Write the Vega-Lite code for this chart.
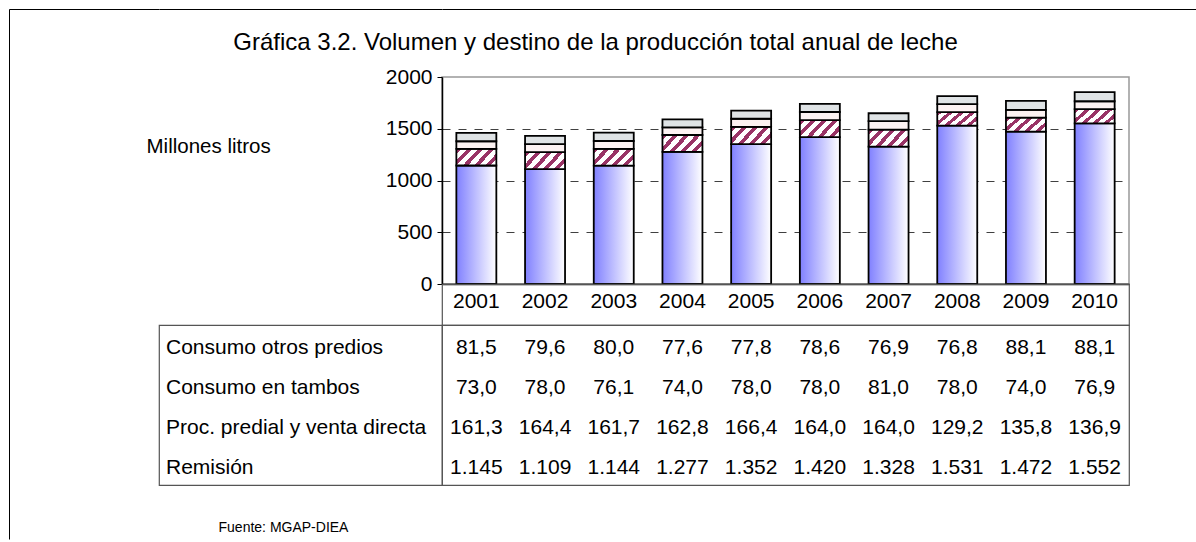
{
  "$schema": "https://vega.github.io/schema/vega-lite/v6.json",
  "padding": {"left": 8, "top": 8, "right": 0, "bottom": 0},
  "background": "white",
  "config": {
    "font": "Liberation Sans",
    "view": {"stroke": null},
    "text": {"font": "Liberation Sans", "color": "black"},
    "locale": {"number": {"decimal": ",", "thousands": ".", "grouping": [3], "currency": ["", ""]}}
  },
  "datasets": {
    "leche": [
      {"year": "2001", "serie": "Remisión", "orden": 1, "value": 1145},
      {"year": "2001", "serie": "Proc. predial y venta directa", "orden": 2, "value": 161.3},
      {"year": "2001", "serie": "Consumo en tambos", "orden": 3, "value": 73.0},
      {"year": "2001", "serie": "Consumo otros predios", "orden": 4, "value": 81.5},
      {"year": "2002", "serie": "Remisión", "orden": 1, "value": 1109},
      {"year": "2002", "serie": "Proc. predial y venta directa", "orden": 2, "value": 164.4},
      {"year": "2002", "serie": "Consumo en tambos", "orden": 3, "value": 78.0},
      {"year": "2002", "serie": "Consumo otros predios", "orden": 4, "value": 79.6},
      {"year": "2003", "serie": "Remisión", "orden": 1, "value": 1144},
      {"year": "2003", "serie": "Proc. predial y venta directa", "orden": 2, "value": 161.7},
      {"year": "2003", "serie": "Consumo en tambos", "orden": 3, "value": 76.1},
      {"year": "2003", "serie": "Consumo otros predios", "orden": 4, "value": 80.0},
      {"year": "2004", "serie": "Remisión", "orden": 1, "value": 1277},
      {"year": "2004", "serie": "Proc. predial y venta directa", "orden": 2, "value": 162.8},
      {"year": "2004", "serie": "Consumo en tambos", "orden": 3, "value": 74.0},
      {"year": "2004", "serie": "Consumo otros predios", "orden": 4, "value": 77.6},
      {"year": "2005", "serie": "Remisión", "orden": 1, "value": 1352},
      {"year": "2005", "serie": "Proc. predial y venta directa", "orden": 2, "value": 166.4},
      {"year": "2005", "serie": "Consumo en tambos", "orden": 3, "value": 78.0},
      {"year": "2005", "serie": "Consumo otros predios", "orden": 4, "value": 77.8},
      {"year": "2006", "serie": "Remisión", "orden": 1, "value": 1420},
      {"year": "2006", "serie": "Proc. predial y venta directa", "orden": 2, "value": 164.0},
      {"year": "2006", "serie": "Consumo en tambos", "orden": 3, "value": 78.0},
      {"year": "2006", "serie": "Consumo otros predios", "orden": 4, "value": 78.6},
      {"year": "2007", "serie": "Remisión", "orden": 1, "value": 1328},
      {"year": "2007", "serie": "Proc. predial y venta directa", "orden": 2, "value": 164.0},
      {"year": "2007", "serie": "Consumo en tambos", "orden": 3, "value": 81.0},
      {"year": "2007", "serie": "Consumo otros predios", "orden": 4, "value": 76.9},
      {"year": "2008", "serie": "Remisión", "orden": 1, "value": 1531},
      {"year": "2008", "serie": "Proc. predial y venta directa", "orden": 2, "value": 129.2},
      {"year": "2008", "serie": "Consumo en tambos", "orden": 3, "value": 78.0},
      {"year": "2008", "serie": "Consumo otros predios", "orden": 4, "value": 76.8},
      {"year": "2009", "serie": "Remisión", "orden": 1, "value": 1472},
      {"year": "2009", "serie": "Proc. predial y venta directa", "orden": 2, "value": 135.8},
      {"year": "2009", "serie": "Consumo en tambos", "orden": 3, "value": 74.0},
      {"year": "2009", "serie": "Consumo otros predios", "orden": 4, "value": 88.1},
      {"year": "2010", "serie": "Remisión", "orden": 1, "value": 1552},
      {"year": "2010", "serie": "Proc. predial y venta directa", "orden": 2, "value": 136.9},
      {"year": "2010", "serie": "Consumo en tambos", "orden": 3, "value": 76.9},
      {"year": "2010", "serie": "Consumo otros predios", "orden": 4, "value": 88.1}
    ]
  },
  "bounds": "flush",
  "spacing": 0,
  "hconcat": [
    {
      "width": 150,
      "height": 530,
      "view": {"stroke": "black", "strokeWidth": 1, "strokeDash": [150, 680, 530]},
      "data": {"values": [{}]},
      "mark": {"type": "text"},
      "encoding": {"text": {"value": ""}}
    },
    {
      "bounds": "flush",
      "spacing": 0,
      "columns": 2,
      "concat": [
        {
          "width": 283,
          "height": 68,
          "view": {"stroke": "black", "strokeWidth": 1, "strokeDash": [283, 3000]},
          "data": {"values": [{}]},
          "mark": {"type": "text"},
          "encoding": {"text": {"value": ""}}
        },
        {
          "width": 755,
          "height": 68,
          "view": {"stroke": "black", "strokeWidth": 1, "strokeDash": [755, 3000]},
          "data": {"values": [{"titulo": "Gráfica 3.2. Volumen y destino de la producción total anual de leche"}]},
          "mark": {"type": "text", "fontSize": 24, "align": "center", "baseline": "middle", "dx": -224},
          "encoding": {"text": {"field": "titulo"}}
        },
        {
          "width": 283,
          "height": 207,
          "data": {"values": [{}]},
          "mark": {"type": "text"},
          "encoding": {"text": {"value": ""}}
        },
        {
          "width": 687,
          "height": 207,
          "view": {"stroke": "#999999", "strokeWidth": 1.5},
          "data": {"name": "leche"},
          "transform": [
            {"stack": "value", "groupby": ["year"], "sort": [{"field": "orden", "order": "ascending"}], "as": ["v0", "v1"]}
          ],
          "encoding": {
            "x": {
              "field": "year", "type": "ordinal",
              "scale": {"paddingInner": 0.418, "paddingOuter": 0.209},
              "axis": {"title": null, "labels": false, "ticks": false, "domainColor": "black", "domainWidth": 1.5}
            },
            "y": {
              "field": "v1", "type": "quantitative",
              "scale": {"domain": [0, 2000], "nice": false},
              "axis": {
                "values": [0, 500, 1000, 1500, 2000],
                "format": "d",
                "title": "Millones litros",
                "titleAngle": 0, "titleAlign": "left", "titleBaseline": "middle",
                "titleX": -296, "titleY": 69,
                "titleFontSize": 20.5, "titleFontWeight": "normal", "titleColor": "black", "titleFont": "Liberation Sans",
                "labelFontSize": 21, "labelColor": "black", "labelFont": "Liberation Sans", "labelPadding": 5,
                "tickSize": 5, "tickColor": "black", "domainColor": "black", "domainWidth": 1.5,
                "grid": true, "gridColor": "#404040", "gridDash": [8, 8], "gridWidth": 1,
                "gridOpacity": {"condition": {"test": "datum.value >= 2000 || datum.value <= 0", "value": 0}, "value": 1}
              }
            },
            "y2": {"field": "v0"}
          },
          "layer": [
            {
              "transform": [{"filter": "datum.serie === 'Remisión'"}],
              "mark": {
                "type": "bar", "stroke": "black", "strokeWidth": 1.8,
                "fill": {"gradient": "linear", "x1": 0, "y1": 0, "x2": 1, "y2": 0,
                  "stops": [{"offset": 0, "color": "#8080ff"}, {"offset": 1, "color": "#ffffff"}]}
              }
            },
            {
              "transform": [{"filter": "datum.serie === 'Proc. predial y venta directa'"}],
              "mark": {
                "type": "bar", "stroke": "black", "strokeWidth": 1.8,
                "fill": {"gradient": "linear", "x1": 0, "y1": 0, "x2": 1.2, "y2": 0.48,
                  "stops": [
                    {"offset": 0, "color": "#993366"}, {"offset": 0.09, "color": "#993366"},
                    {"offset": 0.09, "color": "#ffffff"}, {"offset": 0.2, "color": "#ffffff"},
                    {"offset": 0.2, "color": "#993366"}, {"offset": 0.29, "color": "#993366"},
                    {"offset": 0.29, "color": "#ffffff"}, {"offset": 0.4, "color": "#ffffff"},
                    {"offset": 0.4, "color": "#993366"}, {"offset": 0.49, "color": "#993366"},
                    {"offset": 0.49, "color": "#ffffff"}, {"offset": 0.6, "color": "#ffffff"},
                    {"offset": 0.6, "color": "#993366"}, {"offset": 0.69, "color": "#993366"},
                    {"offset": 0.69, "color": "#ffffff"}, {"offset": 0.8, "color": "#ffffff"},
                    {"offset": 0.8, "color": "#993366"}, {"offset": 0.89, "color": "#993366"},
                    {"offset": 0.89, "color": "#ffffff"}, {"offset": 1, "color": "#ffffff"}
                  ]}
              }
            },
            {
              "transform": [{"filter": "datum.serie === 'Consumo en tambos'"}],
              "mark": {"type": "bar", "stroke": "black", "strokeWidth": 1.8, "fill": "#fcf2f2"}
            },
            {
              "transform": [{"filter": "datum.serie === 'Consumo otros predios'"}],
              "mark": {"type": "bar", "stroke": "black", "strokeWidth": 1.8, "fill": "#dfe3e5"}
            }
          ]
        },
        {
          "width": 283,
          "height": 41,
          "data": {"values": [{}]},
          "mark": {"type": "text"},
          "encoding": {"text": {"value": ""}}
        },
        {
          "width": 687,
          "height": 41,
          "view": {"stroke": "#555555", "strokeWidth": 1.2},
          "data": {"name": "leche"},
          "transform": [{"filter": "datum.serie === 'Remisión'"}],
          "mark": {"type": "text", "fontSize": 21, "baseline": "middle", "dy": -3},
          "encoding": {
            "x": {"field": "year", "type": "ordinal", "scale": {"paddingInner": 0.418, "paddingOuter": 0.209}, "axis": null},
            "text": {"field": "year"}
          }
        },
        {
          "width": 283,
          "height": 160,
          "view": {"stroke": "#555555", "strokeWidth": 1.2},
          "data": {"name": "leche"},
          "transform": [{"filter": "datum.year === '2001'"}],
          "mark": {"type": "text", "fontSize": 21, "align": "left", "baseline": "middle", "dx": 7, "dy": 3},
          "encoding": {
            "x": {"datum": 0, "type": "quantitative", "scale": {"domain": [0, 1]}, "axis": null},
            "y": {"field": "serie", "type": "nominal", "scale": {"domain": ["Consumo otros predios", "Consumo en tambos", "Proc. predial y venta directa", "Remisión"]}, "axis": null},
            "text": {"field": "serie"}
          }
        },
        {
          "width": 687,
          "height": 160,
          "view": {"stroke": "#555555", "strokeWidth": 1.2},
          "data": {"name": "leche"},
          "encoding": {
            "x": {"field": "year", "type": "ordinal", "scale": {"paddingInner": 0.418, "paddingOuter": 0.209}, "axis": null},
            "y": {"field": "serie", "type": "nominal", "scale": {"domain": ["Consumo otros predios", "Consumo en tambos", "Proc. predial y venta directa", "Remisión"]}, "axis": null}
          },
          "layer": [
            {
              "transform": [{"filter": "datum.serie === 'Remisión'"}],
              "mark": {"type": "text", "fontSize": 21, "baseline": "middle", "dy": 3},
              "encoding": {"text": {"field": "value", "type": "quantitative", "format": ",.0f"}}
            },
            {
              "transform": [{"filter": "datum.serie !== 'Remisión'"}],
              "mark": {"type": "text", "fontSize": 21, "baseline": "middle", "dy": 3},
              "encoding": {"text": {"field": "value", "type": "quantitative", "format": ".1f"}}
            }
          ]
        },
        {
          "width": 283,
          "height": 52,
          "data": {"values": [{"fuente": "Fuente: MGAP-DIEA"}]},
          "mark": {"type": "text", "fontSize": 14, "align": "center", "baseline": "middle", "dx": -17, "dy": 17},
          "encoding": {"text": {"field": "fuente"}}
        },
        {
          "width": 687,
          "height": 52,
          "data": {"values": [{}]},
          "mark": {"type": "text"},
          "encoding": {"text": {"value": ""}}
        }
      ]
    }
  ]
}
